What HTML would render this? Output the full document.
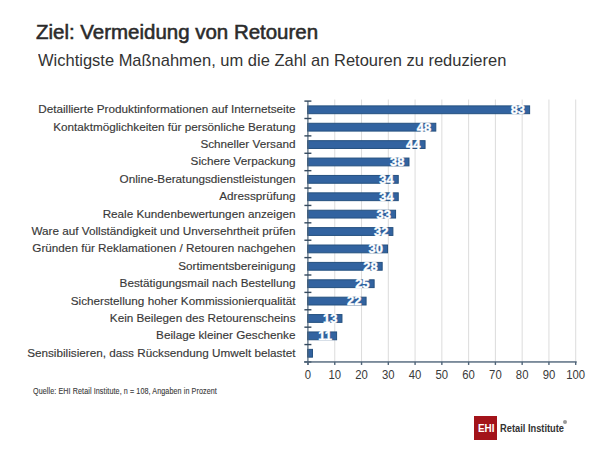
<!DOCTYPE html>
<html><head><meta charset="utf-8">
<style>
html,body{margin:0;padding:0;background:#fff;width:600px;height:450px;overflow:hidden;}
body{position:relative;font-family:"Liberation Sans",sans-serif;}
.t{position:absolute;white-space:nowrap;line-height:1;transform-origin:0 0;}
#title{left:36px;top:21.5px;font-size:20px;font-weight:normal;-webkit-text-stroke:0.55px #2b2b2b;color:#2b2b2b;transform:scaleX(1.023);}
#sub{left:37.5px;top:51.5px;font-size:16.4px;color:#333;transform:scaleX(1.006);}
svg{position:absolute;left:0;top:0;}
.lab{font-size:11.72px;fill:#383838;stroke:#383838;stroke-width:0.15px;}
.val{font-size:13px;font-weight:bold;fill:#fff;stroke:#fff;stroke-width:0.4px;}
.tick{font-size:12.6px;fill:#3a3a3a;}
#src{left:33px;top:386.5px;font-size:8.6px;color:#3a3a3a;-webkit-text-stroke:0.12px #3a3a3a;letter-spacing:0.12px;transform:scaleX(0.832);}
#logo{position:absolute;left:474px;top:416px;width:23px;height:23.5px;background:#a3131a;}
#logo span{position:absolute;left:3.5px;top:6.5px;font-size:11px;line-height:1;font-weight:bold;color:#fff;transform:scaleX(0.9);transform-origin:0 0;}
#rt{left:500px;top:423px;font-size:11px;font-weight:bold;color:#333;transform:scaleX(0.845);}
#reg{position:absolute;left:563px;top:420px;width:4px;height:4px;border-radius:50%;background:#999;}
</style></head><body>
<div class="t" id="title">Ziel: Vermeidung von Retouren</div>
<div class="t" id="sub">Wichtigste Maßnahmen, um die Zahl an Retouren zu reduzieren</div>
<svg width="600" height="450" viewBox="0 0 600 450">
<rect x="334.27" y="99.5" width="1" height="262.45" fill="#dcdcdc"/>
<rect x="361.04" y="99.5" width="1" height="262.45" fill="#dcdcdc"/>
<rect x="387.81" y="99.5" width="1" height="262.45" fill="#dcdcdc"/>
<rect x="414.58" y="99.5" width="1" height="262.45" fill="#dcdcdc"/>
<rect x="441.35" y="99.5" width="1" height="262.45" fill="#dcdcdc"/>
<rect x="468.12" y="99.5" width="1" height="262.45" fill="#dcdcdc"/>
<rect x="494.89" y="99.5" width="1" height="262.45" fill="#dcdcdc"/>
<rect x="521.66" y="99.5" width="1" height="262.45" fill="#dcdcdc"/>
<rect x="548.43" y="99.5" width="1" height="262.45" fill="#dcdcdc"/>
<rect x="575.20" y="99.5" width="1" height="262.45" fill="#dcdcdc"/>
<rect x="307.60" y="105.89" width="222.02" height="7.80" fill="#3263a0" stroke="#24507f" stroke-width="1"/>
<text x="295.5" y="113.29" text-anchor="end" class="lab">Detaillierte Produktinformationen auf Internetseite</text>
<text x="525.12" y="114.19" text-anchor="end" class="val">83</text>
<rect x="307.60" y="123.28" width="128.19" height="7.80" fill="#3263a0" stroke="#24507f" stroke-width="1"/>
<text x="295.5" y="130.69" text-anchor="end" class="lab">Kontaktmöglichkeiten für persönliche Beratung</text>
<text x="431.29" y="131.59" text-anchor="end" class="val">48</text>
<rect x="307.60" y="140.67" width="117.46" height="7.80" fill="#3263a0" stroke="#24507f" stroke-width="1"/>
<text x="295.5" y="148.07" text-anchor="end" class="lab">Schneller Versand</text>
<text x="420.56" y="148.97" text-anchor="end" class="val">44</text>
<rect x="307.60" y="158.06" width="101.38" height="7.80" fill="#3263a0" stroke="#24507f" stroke-width="1"/>
<text x="295.5" y="165.46" text-anchor="end" class="lab">Sichere Verpackung</text>
<text x="404.48" y="166.36" text-anchor="end" class="val">38</text>
<rect x="307.60" y="175.45" width="90.65" height="7.80" fill="#3263a0" stroke="#24507f" stroke-width="1"/>
<text x="295.5" y="182.85" text-anchor="end" class="lab">Online-Beratungsdienstleistungen</text>
<text x="393.75" y="183.75" text-anchor="end" class="val">34</text>
<rect x="307.60" y="192.84" width="90.65" height="7.80" fill="#3263a0" stroke="#24507f" stroke-width="1"/>
<text x="295.5" y="200.25" text-anchor="end" class="lab">Adressprüfung</text>
<text x="393.75" y="201.15" text-anchor="end" class="val">34</text>
<rect x="307.60" y="210.23" width="87.97" height="7.80" fill="#3263a0" stroke="#24507f" stroke-width="1"/>
<text x="295.5" y="217.63" text-anchor="end" class="lab">Reale Kundenbewertungen anzeigen</text>
<text x="391.07" y="218.53" text-anchor="end" class="val">33</text>
<rect x="307.60" y="227.62" width="85.29" height="7.80" fill="#3263a0" stroke="#24507f" stroke-width="1"/>
<text x="295.5" y="235.02" text-anchor="end" class="lab">Ware auf Vollständigkeit und Unversehrtheit prüfen</text>
<text x="388.39" y="235.92" text-anchor="end" class="val">32</text>
<rect x="307.60" y="245.01" width="79.93" height="7.80" fill="#3263a0" stroke="#24507f" stroke-width="1"/>
<text x="295.5" y="252.41" text-anchor="end" class="lab">Gründen für Reklamationen / Retouren nachgehen</text>
<text x="383.03" y="253.31" text-anchor="end" class="val">30</text>
<rect x="307.60" y="262.41" width="74.57" height="7.80" fill="#3263a0" stroke="#24507f" stroke-width="1"/>
<text x="295.5" y="269.81" text-anchor="end" class="lab">Sortimentsbereinigung</text>
<text x="377.67" y="270.70" text-anchor="end" class="val">28</text>
<rect x="307.60" y="279.80" width="66.53" height="7.80" fill="#3263a0" stroke="#24507f" stroke-width="1"/>
<text x="295.5" y="287.19" text-anchor="end" class="lab">Bestätigungsmail nach Bestellung</text>
<text x="369.62" y="288.09" text-anchor="end" class="val">25</text>
<rect x="307.60" y="297.19" width="58.48" height="7.80" fill="#3263a0" stroke="#24507f" stroke-width="1"/>
<text x="295.5" y="304.58" text-anchor="end" class="lab">Sicherstellung hoher Kommissionierqualität</text>
<text x="361.58" y="305.48" text-anchor="end" class="val">22</text>
<rect x="307.60" y="314.57" width="34.35" height="7.80" fill="#3263a0" stroke="#24507f" stroke-width="1"/>
<text x="295.5" y="321.97" text-anchor="end" class="lab">Kein Beilegen des Retourenscheins</text>
<text x="337.45" y="322.87" text-anchor="end" class="val">13</text>
<rect x="307.60" y="331.96" width="28.99" height="7.80" fill="#3263a0" stroke="#24507f" stroke-width="1"/>
<text x="295.5" y="339.36" text-anchor="end" class="lab">Beilage kleiner Geschenke</text>
<text x="332.09" y="340.26" text-anchor="end" class="val">11</text>
<rect x="307.60" y="349.36" width="4.86" height="7.80" fill="#3263a0" stroke="#24507f" stroke-width="1"/>
<text x="295.5" y="356.75" text-anchor="end" class="lab">Sensibilisieren, dass Rücksendung Umwelt belastet</text>
<rect x="307.30" y="101.10" width="1.2" height="263.85" fill="#4f6479"/>
<rect x="304.40" y="100.40" width="7" height="1.4" fill="#34495e"/>
<rect x="304.40" y="117.79" width="7" height="1.4" fill="#34495e"/>
<rect x="304.40" y="135.18" width="7" height="1.4" fill="#34495e"/>
<rect x="304.40" y="152.57" width="7" height="1.4" fill="#34495e"/>
<rect x="304.40" y="169.96" width="7" height="1.4" fill="#34495e"/>
<rect x="304.40" y="187.35" width="7" height="1.4" fill="#34495e"/>
<rect x="304.40" y="204.74" width="7" height="1.4" fill="#34495e"/>
<rect x="304.40" y="222.13" width="7" height="1.4" fill="#34495e"/>
<rect x="304.40" y="239.52" width="7" height="1.4" fill="#34495e"/>
<rect x="304.40" y="256.91" width="7" height="1.4" fill="#34495e"/>
<rect x="304.40" y="274.30" width="7" height="1.4" fill="#34495e"/>
<rect x="304.40" y="291.69" width="7" height="1.4" fill="#34495e"/>
<rect x="304.40" y="309.08" width="7" height="1.4" fill="#34495e"/>
<rect x="304.40" y="326.47" width="7" height="1.4" fill="#34495e"/>
<rect x="304.40" y="343.86" width="7" height="1.4" fill="#34495e"/>
<rect x="304.40" y="361.25" width="7" height="1.4" fill="#34495e"/>
<rect x="304.10" y="361.25" width="272.60" height="1.4" fill="#4f6479"/>
<rect x="307.30" y="361.95" width="1.4" height="3" fill="#4f6479"/>
<text transform="translate(308.00,378.95) scale(0.9,1)" text-anchor="middle" class="tick">0</text>
<rect x="334.07" y="361.95" width="1.4" height="3" fill="#4f6479"/>
<text transform="translate(334.77,378.95) scale(0.9,1)" text-anchor="middle" class="tick">10</text>
<rect x="360.84" y="361.95" width="1.4" height="3" fill="#4f6479"/>
<text transform="translate(361.54,378.95) scale(0.9,1)" text-anchor="middle" class="tick">20</text>
<rect x="387.61" y="361.95" width="1.4" height="3" fill="#4f6479"/>
<text transform="translate(388.31,378.95) scale(0.9,1)" text-anchor="middle" class="tick">30</text>
<rect x="414.38" y="361.95" width="1.4" height="3" fill="#4f6479"/>
<text transform="translate(415.08,378.95) scale(0.9,1)" text-anchor="middle" class="tick">40</text>
<rect x="441.15" y="361.95" width="1.4" height="3" fill="#4f6479"/>
<text transform="translate(441.85,378.95) scale(0.9,1)" text-anchor="middle" class="tick">50</text>
<rect x="467.92" y="361.95" width="1.4" height="3" fill="#4f6479"/>
<text transform="translate(468.62,378.95) scale(0.9,1)" text-anchor="middle" class="tick">60</text>
<rect x="494.69" y="361.95" width="1.4" height="3" fill="#4f6479"/>
<text transform="translate(495.39,378.95) scale(0.9,1)" text-anchor="middle" class="tick">70</text>
<rect x="521.46" y="361.95" width="1.4" height="3" fill="#4f6479"/>
<text transform="translate(522.16,378.95) scale(0.9,1)" text-anchor="middle" class="tick">80</text>
<rect x="548.23" y="361.95" width="1.4" height="3" fill="#4f6479"/>
<text transform="translate(548.93,378.95) scale(0.9,1)" text-anchor="middle" class="tick">90</text>
<rect x="575.00" y="361.95" width="1.4" height="3" fill="#4f6479"/>
<text transform="translate(575.70,378.95) scale(0.9,1)" text-anchor="middle" class="tick">100</text>
</svg>
<div class="t" id="src">Quelle: EHI Retail Institute, n = 108, Angaben in Prozent</div>
<div id="logo"><span>EHI</span></div>
<div class="t" id="rt">Retail Institute</div>
<div id="reg"></div>
</body></html>
